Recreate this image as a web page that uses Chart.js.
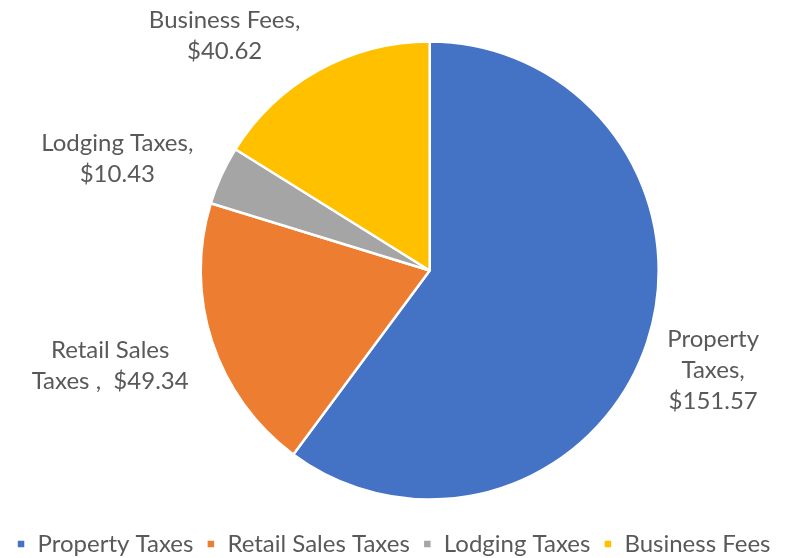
<!DOCTYPE html>
<html>
<head>
<meta charset="utf-8">
<script src="https://cdn.jsdelivr.net/npm/chart.js@4/dist/chart.umd.min.js"></script>
<style>
  html, body { margin: 0; padding: 0; background: #fff; }
  #wrap { width: 787px; height: 558px; }
</style>
</head>
<body>
<div id="wrap"><canvas id="chart"></canvas></div>
<script>
let categories = ['Property Taxes', 'Retail Sales Taxes', 'Lodging Taxes', 'Business Fees'];
let values = [151.57, 49.34, 10.43, 40.62];
let colors = ['#4472C4', '#ED7D31', '#A5A5A5', '#FFC000'];
// label text as Excel wrapped it
let labelLines = [
    ['Property', 'Taxes,', '$151.57'],
    ['Retail Sales', 'Taxes ,  $49.34'],
    ['Lodging Taxes,', '$10.43'],
    ['Business Fees,', '$40.62']
];
// nudge from each slice's outer midpoint to the label centre
let labelShift = [[66, 28], [-102, 24], [-104, -17], [-94, -34]];

let chartArea = document.getElementById('chart').getContext('2d');

let sliceLabels = {
    id: 'sliceLabels',
    afterDatasetsDraw(chart) {
        let ctx = chart.ctx;
        let meta = chart.getDatasetMeta(0);
        ctx.save();
        ctx.font = '24px Lato';
        ctx.fillStyle = '#595959';
        ctx.textAlign = 'center';
        ctx.textBaseline = 'middle';
        meta.data.forEach((arc, i) => {
            let p = arc.getProps(['x', 'y', 'startAngle', 'endAngle', 'outerRadius'], true);
            let mid = (p.startAngle + p.endAngle) / 2;
            let cx = p.x + Math.cos(mid) * p.outerRadius + labelShift[i][0];
            let cy = p.y + Math.sin(mid) * p.outerRadius + labelShift[i][1];
            let lines = labelLines[i];
            let lh = 31;
            lines.forEach((t, k) => {
                ctx.fillText(t, cx, cy + (k - (lines.length - 1) / 2) * lh);
            });
        });
        ctx.restore();
    }
};

let myChart = new Chart(chartArea, {
    type: 'pie',
    data: {
        labels: categories,
        datasets: [{
            data: values,
            backgroundColor: colors,
            borderColor: '#ffffff',
            borderWidth: 2.5
        }]
    },
    options: {
        responsive: true,
        maintainAspectRatio: false,
        animation: false,
        radius: 229,
        layout: {
            padding: { top: 22, bottom: -8, left: 0, right: 0 }
        },
        plugins: {
            // empty title on the left just pushes the pie to the right
            title: {
                display: true,
                position: 'left',
                fullSize: false,
                text: '',
                font: { size: 12 },
                padding: 29
            },
            legend: {
                position: 'bottom',
                labels: {
                    boxWidth: 9,
                    boxHeight: 9,
                    padding: 13,
                    color: '#595959',
                    font: { family: 'Lato', size: 24 }
                }
            },
            tooltip: { enabled: false }
        }
    },
    plugins: [sliceLabels]
});
</script>
</body>
</html>
